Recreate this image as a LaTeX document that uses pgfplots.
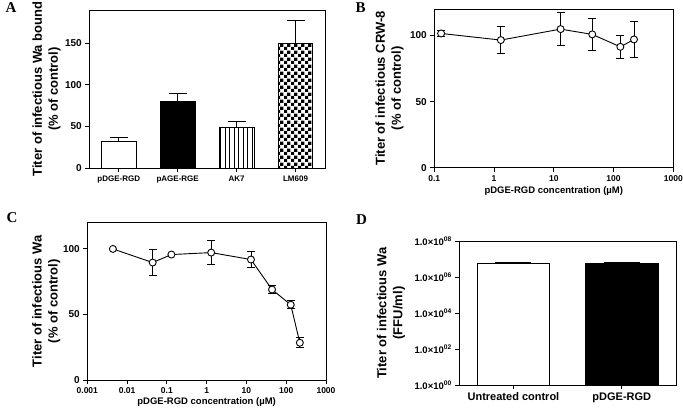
\documentclass[border=0pt]{standalone}
\usepackage{fontspec}
\setmainfont{Liberation Sans}
\newfontfamily\serifletter{Liberation Serif}
\usepackage{pgfplots}
\pgfplotsset{compat=1.18}
\usetikzlibrary{patterns,patterns.meta}

\pgfdeclarepatternformonly{mychecker}{\pgfqpoint{0pt}{0pt}}{\pgfqpoint{6.6pt}{6.6pt}}{\pgfqpoint{6.6pt}{6.6pt}}{%
 \pgfpathrectangle{\pgfqpoint{0pt}{0pt}}{\pgfqpoint{3.3pt}{3.3pt}}%
 \pgfpathrectangle{\pgfqpoint{3.3pt}{3.3pt}}{\pgfqpoint{3.3pt}{3.3pt}}%
 \pgfusepath{fill}}

\pgfplotsset{
  panel/.style={
    scale only axis, anchor=south west,
    axis line style={line width=0.9pt, black},
    tick style={line width=0.9pt, black},
    tick align=outside, tick pos=left, major tick length=4pt,
    /pgf/number format/assume math mode=true,
    yticklabel style={font=\bfseries\fontsize{10}{12}\selectfont},
    ylabel style={font=\bfseries\fontsize{13}{16}\selectfont, align=center, anchor=center},
  },
  barerr/.style={error bars/.cd, y dir=plus, y explicit,
    error bar style={black, line width=0.9pt},
    error mark options={rotate=90, black, line width=0.9pt, mark size=#1}},
  pterr/.style={only marks, mark=none, error bars/.cd, y dir=both, y explicit,
    error bar style={black, line width=0.9pt},
    error mark options={rotate=90, black, line width=0.9pt, mark size=4pt}},
  ptline/.style={black, line width=0.9pt, mark=*, mark size=3.5pt,
    mark options={fill=white, draw=black, line width=0.9pt}},
}

\begin{document}
\begin{tikzpicture}
\useasboundingbox (0,0) rectangle (683pt,413pt);

% Panel A
\begin{axis}[panel, at={(89.3pt,245pt)}, width=235.7pt, height=158pt,
  xmin=-0.5, xmax=3.5, ymin=0, ymax=190, ytick={0,50,100,150},
  xtick={0,1,2,3}, xticklabels={pDGE-RGD,pAGE-RGE,AK7,LM609},
  xticklabel style={font=\bfseries\fontsize{8}{10}\selectfont},
  ylabel={Titer of infectious Wa bound\\(\% of control)},
  ylabel style={at={(axis description cs:-0.1816,0.5)}},
  ybar, bar width=0.59]
\addplot[bar shift=0pt, draw=black, line width=0.9pt, fill=white, barerr=9pt] coordinates {(0,32.1) +- (0,4.8)};
\addplot[bar shift=0pt, draw=black, line width=0.9pt, fill=black, barerr=9pt] coordinates {(1,80.6) +- (0,9.3)};
\addplot[bar shift=0pt, draw=black, line width=0.9pt, pattern={Lines[angle=90,distance=4.5pt,line width=0.9pt]}, barerr=9pt] coordinates {(2,48.5) +- (0,7.7)};
\addplot[bar shift=0pt, draw=black, line width=0.9pt, pattern=mychecker, barerr=9pt] coordinates {(3,149.5) +- (0,28.2)};
\end{axis}

% Panel B
\begin{axis}[panel, at={(434.3pt,245.3pt)}, width=239pt, height=158.7pt,
  xmode=log, xmin=0.1, xmax=1000, ymin=0, ymax=120, ytick={0,50,100},
  xtick={0.1,1,10,100,1000}, xticklabels={0.1,1,10,100,1000}, xminorticks=false,
  xticklabel style={font=\bfseries\fontsize{8.5}{10}\selectfont},
  xlabel={pDGE-RGD concentration (µM)},
  xlabel style={font=\bfseries\fontsize{9.5}{11}\selectfont, at={(axis description cs:0.5,-0.147)}, anchor=center},
  ylabel={Titer of infectious CRW-8\\(\% of control)},
  ylabel style={at={(axis description cs:-0.1875,0.5)}}]
\addplot[pterr] coordinates {(0.13,101.5) +- (0,2) (1.3,96.5) +- (0,10.2) (13,104.8) +- (0,12.7) (44,100.8) +- (0,12.4) (130,91.4) +- (0,8.7) (220,97) +- (0,13.3)};
\addplot[ptline] coordinates {(0.13,101.5) (1.3,96.5) (13,104.8) (44,100.8) (130,91.4) (220,97)};
\end{axis}

% Panel C
\begin{axis}[panel, at={(87.3pt,33pt)}, width=238.7pt, height=157.3pt,
  xmode=log, xmin=0.001, xmax=1000, ymin=0, ymax=120, ytick={0,50,100},
  xtick={0.001,0.01,0.1,1,10,100,1000}, xticklabels={0.001,0.01,0.1,1,10,100,1000}, xminorticks=false,
  xticklabel style={font=\bfseries\fontsize{8.5}{10}\selectfont},
  xlabel={pDGE-RGD concentration (µM)},
  xlabel style={font=\bfseries\fontsize{9.5}{11}\selectfont, at={(axis description cs:0.5,-0.138)}, anchor=center},
  ylabel={Titer of infectious Wa\\(\% of control)},
  ylabel style={at={(axis description cs:-0.172,0.5)}}]
\addplot[pterr] coordinates {(0.044,89.6) +- (0,10) (1.3,97.2) +- (0,9.2) (13,91.9) +- (0,6.1) (44,69) +- (0,3.2) (130,57.4) +- (0,3) (220,28.4) +- (0,3.7)};
\addplot[ptline] coordinates {(0.0044,100) (0.044,89.6) (0.13,95.7) (1.3,97.2) (13,91.9) (44,69) (130,57.4) (220,28.4)};
\end{axis}

% Panel D
\begin{axis}[panel, at={(459.3pt,28pt)}, width=216.7pt, height=144pt,
  ymode=log, ymin=1, ymax=1e8, log origin=infty,
  ytick={1,1e2,1e4,1e6,1e8}, yminorticks=false,
  yticklabels={1.0×10\textsuperscript{00},1.0×10\textsuperscript{02},1.0×10\textsuperscript{04},1.0×10\textsuperscript{06},1.0×10\textsuperscript{08}},
  yticklabel style={font=\bfseries\fontsize{9.5}{11}\selectfont},
  xmin=-0.5, xmax=1.5, xtick={0,1}, xticklabels={Untreated control,pDGE-RGD},
  xticklabel style={font=\bfseries\fontsize{11}{13}\selectfont},
  ylabel={Titer of infectious Wa\\(FFU/ml)},
  ylabel style={at={(axis description cs:-0.315,0.5)}},
  ybar, bar width=0.667]
\addplot[bar shift=0pt, draw=black, line width=0.9pt, fill=white, barerr=18pt] coordinates {(0,6.0e6) +- (0,0.5e6)};
\addplot[bar shift=0pt, draw=black, line width=0.9pt, fill=black, barerr=18pt] coordinates {(1,5.5e6) +- (0,1.0e6)};
\end{axis}

\node[anchor=base west, font=\serifletter\bfseries\fontsize{15}{15}\selectfont] at (2pt,400pt) {A};
\node[anchor=base west, font=\serifletter\bfseries\fontsize{15}{15}\selectfont] at (352pt,400pt) {B};
\node[anchor=base west, font=\serifletter\bfseries\fontsize{15}{15}\selectfont] at (3pt,190pt) {C};
\node[anchor=base west, font=\serifletter\bfseries\fontsize{15}{15}\selectfont] at (352.7pt,189pt) {D};
\end{tikzpicture}
\end{document}
